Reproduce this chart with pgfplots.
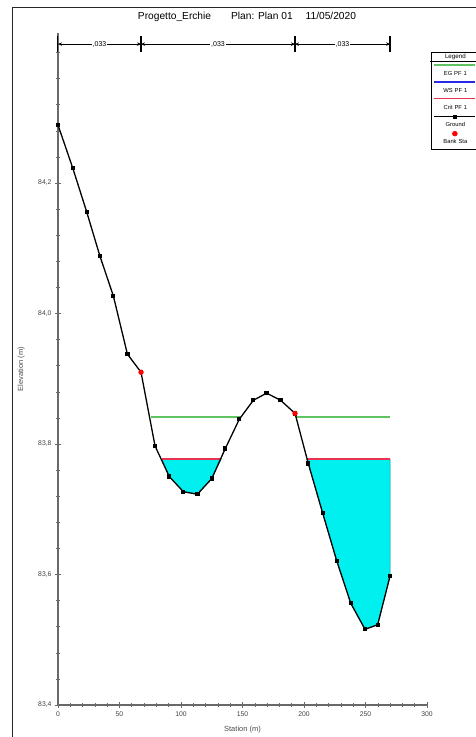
\documentclass[border=0pt]{standalone}
\usepackage{fontspec}
\setmainfont{Liberation Sans}
\usepackage{pgfplots}
\pgfplotsset{compat=1.18}
\usetikzlibrary{arrows.meta}
\definecolor{egcol}{RGB}{95,195,95}
\definecolor{wscol}{RGB}{40,40,230}
\definecolor{critcol}{RGB}{235,50,80}
\definecolor{wsfill}{RGB}{0,240,240}
\definecolor{axgray}{RGB}{105,105,105}

\pgfplotsset{
  lineleg/.style={legend image code/.code={\path[draw=none,fill=none] (0pt,0pt) -- (1pt,0pt); \draw[overlay,##1] (2pt,9.5pt) -- (43pt,9.5pt);}},
  markleg/.style={legend image code/.code={\path[draw=none,fill=none] (0pt,0pt) -- (1pt,0pt); \draw[overlay,mark repeat=2,mark phase=2,##1] plot coordinates {(2pt,8.5pt) (22.5pt,8.5pt) (43pt,8.5pt)};}},
  bankleg/.style={legend image code/.code={\path[draw=none,fill=none] (0pt,-6.5pt) -- (1pt,0pt); \draw[overlay,mark repeat=2,mark phase=2,##1] plot coordinates {(2pt,8.5pt) (22.5pt,8.5pt) (43pt,8.5pt)};}},
  headleg/.style={legend image code/.code={\path[draw=none,fill=none] (0pt,0pt) -- (1pt,0pt); \draw[overlay,black,line width=0.6pt] (-2pt,-3.4pt) -- (50pt,-3.4pt);}},
}

\pgfplotstableread{
x y
0.0 84.289
12.0 84.223
23.3 84.156
34.1 84.088
45.0 84.027
56.4 83.938
67.5 83.910
78.9 83.797
90.5 83.750
101.9 83.727
113.3 83.723
125.0 83.747
136.0 83.793
147.4 83.838
158.8 83.867
169.6 83.878
181.0 83.867
192.7 83.847
203.5 83.770
215.2 83.694
226.6 83.621
238.0 83.556
249.6 83.516
259.9 83.523
270.0 83.598
}\ground

\begin{document}
\begin{tikzpicture}
\useasboundingbox (0,0) rectangle (475pt,737pt);
\draw[line width=0.9pt, black!85] (476pt,730pt) -- (12pt,730pt) -- (12pt,-1pt);
\node[font=\fontsize{10.2}{12}\selectfont] at (247pt,720.5pt) {Progetto\_Erchie\hspace{20pt}Plan: Plan 01\hspace{13pt}11/05/2020};
\begin{axis}[
  at={(58pt,32pt)}, anchor=south west,
  scale only axis, width=369pt, height=672pt,
  xmin=0, xmax=300, ymin=83.4, ymax=84.43,
  axis x line*=bottom, axis y line*=left,
  axis line style={-, axgray, line width=1.2pt},
  clip=false,
  xtick={0,50,...,300},
  minor xtick={10,20,...,290},
  ytick={83.4,83.6,83.8,84.0,84.2},
  minor ytick={83.44,83.48,83.52,83.56,83.64,83.68,83.72,83.76,83.84,83.88,83.92,83.96,84.04,84.08,84.12,84.16,84.24,84.28,84.32,84.36,84.40},
  tick align=center,
  major tick length=6pt, minor tick length=3.5pt,
  every tick/.style={axgray, line width=0.6pt},
  tick label style={font=\fontsize{6.8}{8}\selectfont, text=black!75},
  /pgf/number format/assume math mode=true,
  yticklabel style={/pgf/number format/.cd, fixed, fixed zerofill, precision=1, use comma},
  xticklabel style={/pgf/number format/.cd, fixed, precision=0},
  xlabel={Station (m)}, ylabel={Elevation (m)},
  label style={font=\fontsize{7.5}{9}\selectfont, text=black!70},
  xlabel style={at={(axis description cs:0.5,-0.036)}, anchor=center},
  ylabel style={at={(axis description cs:-0.1,0.5)}, anchor=center},
  legend style={at={(axis description cs:1.011,0.972)}, anchor=north west,
    draw=black, line width=0.6pt, inner sep=1pt, row sep=7.8pt,
    font=\fontsize{5.8}{7}\selectfont,
    cells={text width=40pt, align=center, inner sep=0.5pt, text height=3.6pt, text depth=1pt}},
  lineleg,
]
\addlegendimage{headleg}
\addlegendentry{\fontsize{6.2}{7}\selectfont Legend}

% water fills
\addplot[fill=wsfill, draw=wsfill!60!black, line width=0.4pt, forget plot] coordinates {(84.6,83.777) (90.5,83.750) (101.9,83.727) (113.3,83.723) (125.0,83.747) (132.8,83.777)} -- cycle;
\addplot[fill=wsfill, draw=wsfill!60!black, line width=0.4pt, forget plot] coordinates {(202.4,83.777) (203.5,83.770) (215.2,83.694) (226.6,83.621) (238.0,83.556) (249.6,83.516) (259.9,83.523) (270.0,83.598) (270.0,83.777)} -- cycle;

% EG
\addplot[color=egcol, line width=2pt] coordinates {(76,83.841) (148.6,83.841)};
\addlegendentry{EG PF 1}
\addplot[color=egcol, line width=2pt, forget plot] coordinates {(193.5,83.841) (270,83.841)};
% WS
\addplot[color=wscol, line width=1.2pt] coordinates {(84.6,83.777) (132.8,83.777)};
\addlegendentry{WS PF 1}
\addplot[color=wscol, line width=1.2pt, forget plot] coordinates {(202.4,83.777) (270,83.777)};
% Crit
\addplot[color=critcol, line width=1.2pt] coordinates {(84.6,83.777) (132.8,83.777)};
\addlegendentry{Crit PF 1}
\addplot[color=critcol, line width=1.2pt, forget plot] coordinates {(202.4,83.777) (270,83.777)};
% Ground
\addplot[color=black, line width=1.3pt, mark=square*, mark size=1.5pt, markleg] table[x=x,y=y] {\ground};
\addlegendentry{Ground}
% Bank stations
\addplot[only marks, mark=*, color=red, mark size=2.4pt, bankleg] coordinates {(67.5,83.910) (192.7,83.847)};
\addlegendentry{Bank Sta}

% Manning's n bar
\addplot[forget plot, black, line width=0.8pt, arrows={Stealth[length=4pt,width=3.5pt]-Stealth[length=4pt,width=3.5pt]}] coordinates {(0,84.413) (67.5,84.413)};
\addplot[forget plot, black, line width=0.8pt, arrows={Stealth[length=4pt,width=3.5pt]-Stealth[length=4pt,width=3.5pt]}] coordinates {(67.5,84.413) (192.7,84.413)};
\addplot[forget plot, black, line width=0.8pt, arrows={Stealth[length=4pt,width=3.5pt]-Stealth[length=4pt,width=3.5pt]}] coordinates {(192.7,84.413) (270,84.413)};
\addplot[forget plot, black, line width=1pt] coordinates {(0,84.401) (0,84.425)};
\addplot[forget plot, black, line width=1.8pt] coordinates {(67.5,84.401) (67.5,84.425)};
\addplot[forget plot, black, line width=1.8pt] coordinates {(192.7,84.401) (192.7,84.425)};
\addplot[forget plot, black, line width=1.4pt] coordinates {(270,84.401) (270,84.425)};
\node[fill=white, inner sep=1pt, font=\fontsize{7}{8}\selectfont] at (axis cs:33.75,84.413) {,033};
\node[fill=white, inner sep=1pt, font=\fontsize{7}{8}\selectfont] at (axis cs:130.1,84.413) {,033};
\node[fill=white, inner sep=1pt, font=\fontsize{7}{8}\selectfont] at (axis cs:231.35,84.413) {,033};
\end{axis}
\end{tikzpicture}
\end{document}
